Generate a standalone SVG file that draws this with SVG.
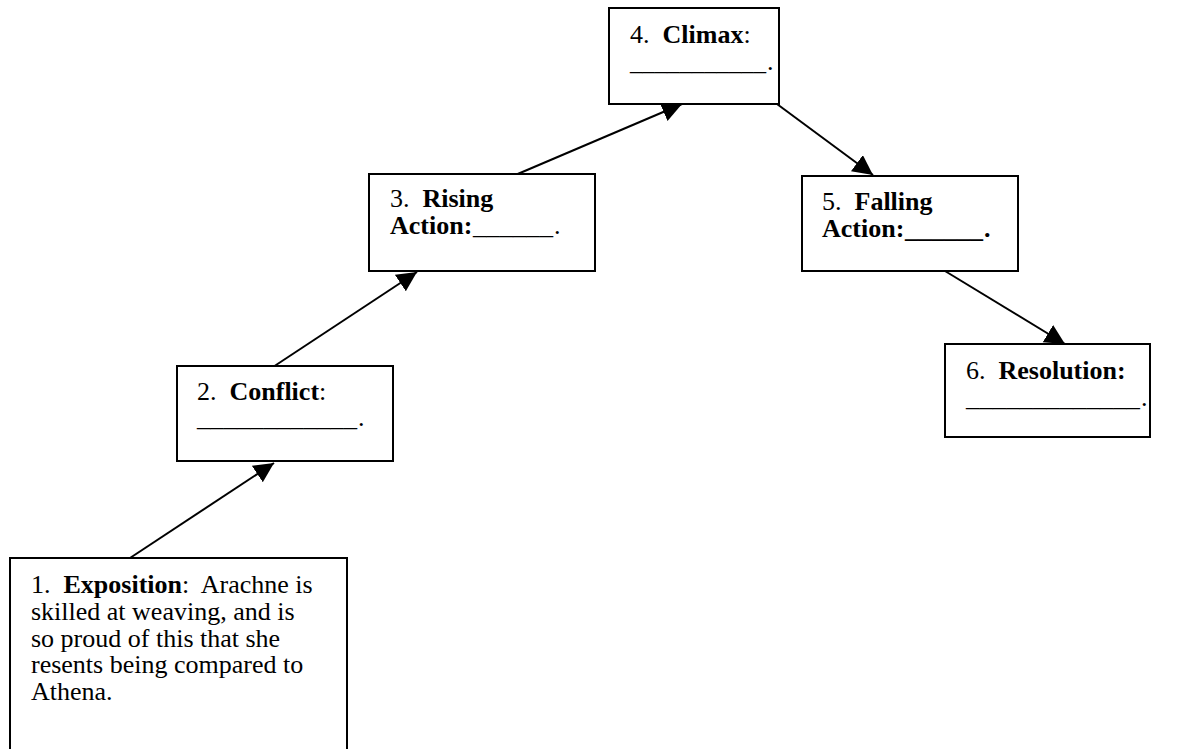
<svg xmlns="http://www.w3.org/2000/svg" width="1186" height="749" viewBox="0 0 1186 749">
<defs>
<marker id="ah" markerUnits="userSpaceOnUse" markerWidth="22" markerHeight="22" refX="20" refY="10" orient="auto">
<path d="M0,0 L20,10 L0,20 z" fill="#000"/>
</marker>
<style>
.box{fill:#fff;stroke:#000;stroke-width:2}
.t{font-family:"Liberation Serif","Times New Roman",serif;font-size:26px;fill:#000;white-space:pre}
.b{font-weight:bold}
.conn line{stroke:#000;stroke-width:2;marker-end:url(#ah)}
</style>
</defs>
<rect width="1186" height="749" fill="#fff"/>
<g id="connectors" class="conn">
<line x1="130" y1="558" x2="274" y2="463"/>
<line x1="273" y1="367" x2="417" y2="272"/>
<line x1="513" y1="176" x2="682" y2="104"/>
<line x1="777" y1="104" x2="873" y2="175"/>
<line x1="945" y1="271" x2="1065" y2="344"/>
</g>
<g id="n1">
<rect class="box" x="10" y="558" width="337" height="200"/>
<text class="t" x="31" y="593">1.  <tspan class="b">Exposition</tspan>:  Arachne is<tspan x="31" y="620">skilled at weaving, and is</tspan><tspan x="31" y="647">so proud of this that she</tspan><tspan x="31" y="673">resents being compared to</tspan><tspan x="31" y="700">Athena.</tspan></text>
</g>
<g id="n2">
<rect class="box" x="177" y="366" width="216" height="95"/>
<text class="t" x="197" y="400">2.  <tspan class="b">Conflict</tspan>:<tspan x="197" y="426" textLength="160" lengthAdjust="spacingAndGlyphs">____________</tspan><tspan x="358" y="426">.</tspan></text>
</g>
<g id="n3">
<rect class="box" x="369" y="174" width="226" height="97"/>
<text class="t" x="390" y="207">3.  <tspan class="b">Rising</tspan><tspan class="b" x="390" y="234">Action:</tspan><tspan x="473" y="234" textLength="80" lengthAdjust="spacingAndGlyphs">______</tspan><tspan x="554" y="234">.</tspan></text>
</g>
<g id="n4">
<rect class="box" x="609" y="8" width="170" height="96"/>
<text class="t" x="630" y="43">4.  <tspan class="b">Climax</tspan>:<tspan x="630" y="70" textLength="136" lengthAdjust="spacingAndGlyphs">___________</tspan><tspan x="767" y="70">.</tspan></text>
</g>
<g id="n5">
<rect class="box" x="802" y="176" width="216" height="95"/>
<text class="t" x="822" y="210">5.  <tspan class="b">Falling</tspan><tspan class="b" x="822" y="237">Action:</tspan><tspan class="b" x="905" y="237" textLength="78" lengthAdjust="spacingAndGlyphs">______</tspan><tspan class="b" x="984" y="237">.</tspan></text>
</g>
<g id="n6">
<rect class="box" x="945" y="344" width="205" height="93"/>
<text class="t" x="966" y="379">6.  <tspan class="b">Resolution:</tspan><tspan x="966" y="406" textLength="174" lengthAdjust="spacingAndGlyphs">_____________</tspan><tspan x="1141" y="406">.</tspan></text>
</g>
</svg>
